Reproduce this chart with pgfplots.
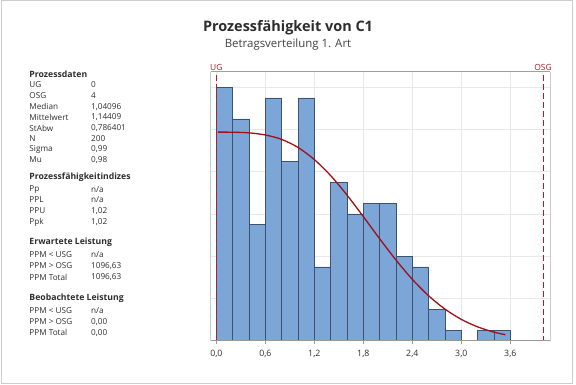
\documentclass[border=0pt]{standalone}
\usepackage{pgfplots}
\pgfplotsset{compat=1.18}
\usepackage{fontspec}
\setmainfont{Open Sans}
\definecolor{barfill}{RGB}{124,165,216}
\definecolor{baredge}{RGB}{62,82,108}
\definecolor{fitred}{RGB}{160,16,26}
\definecolor{specred}{RGB}{175,28,40}
\definecolor{txt}{RGB}{45,45,45}
\begin{document}
\begin{tikzpicture}[x=1bp,y=1bp]
\path (0,0) rectangle (576,384);
\draw[gray!40, line width=0.6bp] (0.8,0.8) rectangle (572.5,383.2);
% titles
\node[font=\fontsize{14.5}{16}\selectfont\bfseries, text=txt, anchor=base] at (288,384-31.5) {Prozessfähigkeit von C1};
\node[font=\fontsize{11.5}{13}\selectfont, text=txt!90, anchor=base] at (288,384-47.5) {Betragsverteilung 1. Art};
% left panel
\begin{scope}[every node/.style={anchor=west, inner sep=0pt, text=txt, font=\fontsize{8.2}{9}\selectfont}]
\node[font=\fontsize{8.7}{10}\selectfont\bfseries] at (29.3,384-74) {Prozessdaten};
\node at (29.3,384-85) {UG};          \node at (91,384-85) {0};
\node at (29.3,384-96) {OSG};         \node at (91,384-96) {4};
\node at (29.3,384-106.7) {Median};   \node at (91,384-106.7) {1,04096};
\node at (29.3,384-117.3) {Mittelwert}; \node at (91,384-117.3) {1,14409};
\node at (29.3,384-128) {StAbw};      \node at (91,384-128) {0,786401};
\node at (29.3,384-138.7) {N};        \node at (91,384-138.7) {200};
\node at (29.3,384-149.3) {Sigma};    \node at (91,384-149.3) {0,99};
\node at (29.3,384-160) {Mu};         \node at (91,384-160) {0,98};
\node[font=\fontsize{8.7}{10}\selectfont\bfseries] at (29.3,384-177.3) {Prozessfähigkeitindizes};
\node at (29.3,384-189.3) {Pp};       \node at (91,384-189.3) {n/a};
\node at (29.3,384-200) {PPL};        \node at (91,384-200) {n/a};
\node at (29.3,384-211) {PPU};        \node at (91,384-211) {1,02};
\node at (29.3,384-222.3) {Ppk};      \node at (91,384-222.3) {1,02};
\node[font=\fontsize{8.7}{10}\selectfont\bfseries] at (29.3,384-242.7) {Erwartete Leistung};
\node at (29.3,384-255) {PPM < USG};  \node at (91,384-255) {n/a};
\node at (29.3,384-266) {PPM > OSG};  \node at (91,384-266) {1096,63};
\node at (29.3,384-277) {PPM Total};  \node at (91,384-277) {1096,63};
\node[font=\fontsize{8.7}{10}\selectfont\bfseries] at (29.3,384-298.3) {Beobachtete Leistung};
\node at (29.3,384-311) {PPM < USG};  \node at (91,384-311) {n/a};
\node at (29.3,384-322) {PPM > OSG};  \node at (91,384-322) {0,00};
\node at (29.3,384-332.7) {PPM Total}; \node at (91,384-332.7) {0,00};
\end{scope}
\begin{axis}[
  at={(210.7bp,43.3bp)}, anchor=south west,
  scale only axis, width=339.3bp, height=269bp,
  xmin=-0.069, xmax=4.086, ymin=0, ymax=25.47,
  axis line style={draw=none},
  xtick={0,0.6,1.2,1.8,2.4,3.0,3.6},
  xticklabels={{0,0},{0,6},{1,2},{1,8},{2,4},{3,0},{3,6}},
  ytick={0,4,8,12,16,20,24}, yticklabels={},
  ytick style={draw=none},
  xtick style={draw=gray!80, line width=0.5bp},
  tick align=outside, major tick length=3bp, tick pos=left,
  xticklabel style={font=\fontsize{8.8}{10}\selectfont, text=txt, yshift=-2.5bp},
  grid=major, major grid style={draw=gray!18, line width=0.5bp},
  clip=false,
]
\addplot[ybar interval, fill=barfill, draw=baredge, line width=0.5bp] coordinates {
(0,24) (0.2,21) (0.4,11) (0.6,23) (0.8,17) (1.0,23) (1.2,7) (1.4,15) (1.6,12)
(1.8,13) (2.0,13) (2.2,8) (2.4,7) (2.6,3) (2.8,1) (3.0,0) (3.2,1) (3.4,1) (3.6,1)};
\addplot[fitred, line width=1.3bp, smooth, no marks] coordinates {
(0.02,19.75) (0.2,19.74) (0.4,19.68) (0.6,19.48) (0.8,19.06) (1.0,18.30) (1.2,17.15)
(1.4,15.63) (1.6,13.79) (1.8,11.75) (2.0,9.65) (2.2,7.64) (2.4,5.81) (2.6,4.25)
(2.8,2.99) (3.0,2.02) (3.2,1.31) (3.4,0.81) (3.54,0.57)};
\addplot[specred, line width=0.9bp, dash pattern=on 6bp off 3bp, no marks] coordinates {(0,25.2) (0,0)};
\addplot[specred, line width=0.9bp, dash pattern=on 6bp off 3bp, no marks] coordinates {(4,25.2) (4,0)};
\draw[gray!40, line width=0.5bp] (rel axis cs:0,0) -- (rel axis cs:0,1);
\draw[gray!40, line width=0.5bp] (rel axis cs:1,0) -- (rel axis cs:1,1);
\draw[gray!75, line width=0.6bp] (rel axis cs:0,1) -- (rel axis cs:1,1);
\draw[gray!80, line width=0.6bp] (rel axis cs:0,0) -- (rel axis cs:1,0);
\node[anchor=base, text=specred, font=\fontsize{8.5}{9}\selectfont, inner sep=0pt] at (axis cs:0,25.47) [yshift=0.8bp] {UG};
\node[anchor=base, text=specred, font=\fontsize{8.5}{9}\selectfont, inner sep=0pt] at (axis cs:4,25.47) [yshift=0.8bp] {OSG};
\end{axis}
\end{tikzpicture}
\end{document}
